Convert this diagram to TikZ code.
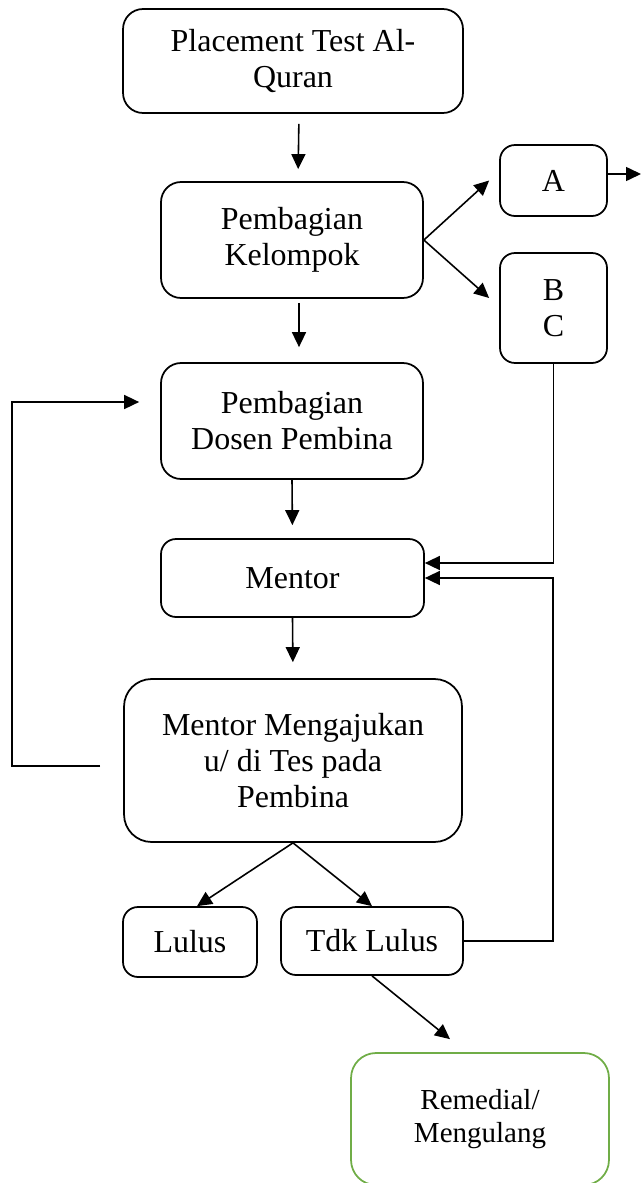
\documentclass[tikz,border=0pt]{standalone}
\usepackage{fontspec}
\setmainfont{Liberation Serif}
\usetikzlibrary{arrows.meta}
\definecolor{remedialgreen}{RGB}{112,173,71}

\begin{document}
\begin{tikzpicture}[
    x=0.02cm, y=-0.02cm,
    box/.style={draw, line width=1pt, rounded corners=0.4cm, align=center, inner sep=2pt, font=\fontsize{18.2}{20.5}\selectfont},
    arrow/.style={-{Triangle[length=0.3cm, width=0.28cm]}, line width=0.9pt}
]
    \useasboundingbox (0,0) rectangle (641,1183);

    % Main column
    \node[box, minimum width=6.8cm, minimum height=2.08cm] (placement) at (293,61) {Placement Test Al-\\Quran};
    \node[box, minimum width=5.24cm, minimum height=2.32cm] (kelompok) at (292,240) {Pembagian\\Kelompok};
    \node[box, minimum width=5.24cm, minimum height=2.32cm] (dosen) at (292,421) {Pembagian\\Dosen Pembina};
    \node[box, rounded corners=0.3cm, minimum width=5.26cm, minimum height=1.56cm] (mentor) at (292.5,578) {Mentor};
    \node[box, rounded corners=0.55cm, minimum width=6.76cm, minimum height=3.26cm] (ajukan) at (293,760.5) {Mentor Mengajukan\\u/ di Tes pada\\Pembina};

    % Groups
    \node[box, rounded corners=0.3cm, minimum width=2.14cm, minimum height=1.42cm] (A) at (553.5,180.5) {A};
    \node[box, rounded corners=0.3cm, minimum width=2.14cm, minimum height=2.2cm] (BC) at (553.5,308) {B\\C};
    \coordinate (aout) at (641,174);

    % Results
    \node[box, rounded corners=0.3cm, minimum width=2.68cm, minimum height=1.4cm] (lulus) at (190,942) {Lulus};
    \node[box, rounded corners=0.3cm, minimum width=3.64cm, minimum height=1.36cm] (tdk) at (372,941) {Tdk Lulus};
    \node[box, draw=remedialgreen, rounded corners=0.5cm, minimum width=5.16cm, minimum height=2.64cm, font=\fontsize{16.5}{18.8}\selectfont] (remedial) at (480,1119) {Remedial/\\Mengulang};

    % Connections
    \draw[arrow, shorten <=0.2cm, shorten >=0.24cm] ([xshift=0.12cm]placement.south) -- ([xshift=0.12cm]kelompok.north);
    \draw[arrow, shorten <=0.08cm, shorten >=0.3cm] ([xshift=0.14cm]kelompok.south) -- ([xshift=0.14cm]dosen.north);
    \draw[arrow, shorten >=0.26cm] (dosen.south) -- (mentor.north);
    \draw[arrow, shorten >=0.32cm] (mentor.south) -- (ajukan.north);
    \draw[arrow] (kelompok.east) -- ([xshift=-0.2cm]A.west);
    \draw[arrow] (kelompok.east) -- ([xshift=-0.2cm, yshift=0.2cm]BC.west);
    \draw[arrow] ([yshift=0.13cm]A.east) -- (aout);
    \draw[arrow] (BC.south) |- ([yshift=0.3cm]mentor.east);
    \draw[arrow] (tdk.east) -- ++(89,0) |- (mentor.east);
    \draw[arrow] ([xshift=-0.46cm, yshift=-0.11cm]ajukan.west) -- ++(-88,0) |- ([xshift=-0.42cm, yshift=0.38cm]dosen.west);
    \draw[arrow] (ajukan.south) -- ([xshift=0.14cm]lulus.north);
    \draw[arrow] (ajukan.south) -- (tdk.north);
    \draw[arrow] (tdk.south) -- ([xshift=-0.6cm, yshift=0.26cm]remedial.north);
\end{tikzpicture}
\end{document}
